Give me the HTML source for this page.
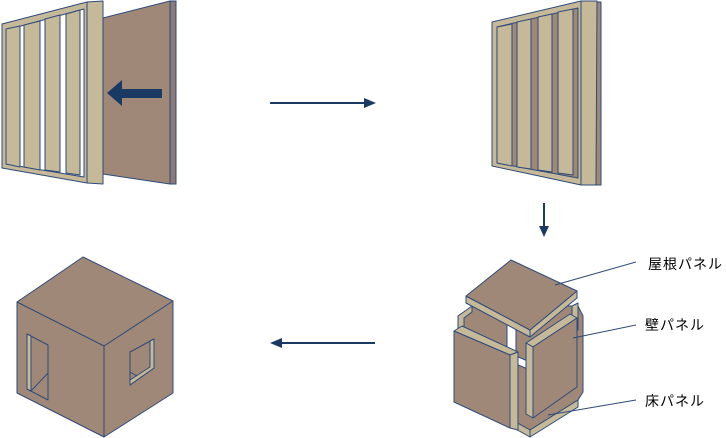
<!DOCTYPE html>
<html><head><meta charset="utf-8"><style>
html,body{margin:0;padding:0;background:#fff;width:726px;height:438px;overflow:hidden}
svg{display:block}
text{font-family:"Liberation Sans","Noto Sans CJK JP",sans-serif;font-size:14px;fill:#000}
</style></head><body>
<svg width="726" height="438" viewBox="0 0 726 438" xmlns="http://www.w3.org/2000/svg">
<g stroke="#2e4a78" stroke-width="1" stroke-linejoin="round">
<polygon points="103,18 170,1 176,1 176,184 170,184 103,174" fill="#a08878"/>
<polygon points="170,1 176,1 176,184 170,184" fill="#8a7a78"/>
<polygon points="2,24 87,2 87,183 2,168" fill="#c6b99a"/>
<polygon points="6,30 84,9 84,177 6,164" fill="#fff"/>
<polygon points="6,29 20,26 20,167 6,164" fill="#c6b99a"/>
<polygon points="24,25 40,21 40,170 24,167" fill="#c6b99a"/>
<polygon points="45,19 60,15 60,172 45,170" fill="#c6b99a"/>
<polygon points="66,14 80,10 80,175 66,173" fill="#c6b99a"/>
<polygon points="87,2 103,1 103,184 87,183" fill="#c6b99a"/>
</g>
<polygon points="107,93 122,80 122,89 162,89 162,98 122,98 122,106" fill="#1a3a63"/>
<line x1="270" y1="103" x2="368" y2="103" stroke="#1a3a63" stroke-width="2"/>
<polygon points="376,103 364,98 364,108" fill="#1a3a63"/>
<g stroke="#2e4a78" stroke-width="1" stroke-linejoin="round">
<polygon points="593,2 601,2 601,185 593,185" fill="#a08878"/>
<polygon points="492,22 581,1 581,185 492,166" fill="#c6b99a"/>
<polygon points="497,27 578,8 578,178 497,163" fill="#a08878"/>
<polygon points="497,27 512,24 512,166 497,163" fill="#c6b99a"/>
<polygon points="517,22 531,19 531,169 517,167" fill="#c6b99a"/>
<polygon points="538,17 552,14 552,172 538,170" fill="#c6b99a"/>
<polygon points="558,12 573,9 573,175 558,173" fill="#c6b99a"/>
<polygon points="581,1 597,1 596,185 581,185" fill="#c6b99a"/>
</g>
<line x1="544" y1="203" x2="544" y2="228" stroke="#1a3a63" stroke-width="2"/>
<polygon points="544,237 539,226 549,226" fill="#1a3a63"/>
<line x1="375" y1="343" x2="278" y2="343" stroke="#1a3a63" stroke-width="2"/>
<polygon points="270,343 282,338 282,348" fill="#1a3a63"/>
<g stroke="#2e4a78" stroke-width="1" stroke-linejoin="round">
<polygon points="83,257 173,301 173,393 104,437 17,393 17,302" fill="#a08878"/>
<polyline points="17,302 104,346 173,301" fill="none"/>
<line x1="104" y1="346" x2="104" y2="437"/>
<polygon points="27,334 48,345 48,400 27,389" fill="#a08878"/>
<polygon points="27,334 31,336 31,391 27,389" fill="#c6b99a"/>
<line x1="31" y1="391" x2="48" y2="373"/>
<polygon points="130,352 154,339 154,368 130,385" fill="#a08878"/>
<polygon points="150,341 154,339 154,368 130,385 130,380 150,367" fill="#c6b99a"/>
<line x1="130" y1="372" x2="137" y2="376"/>
</g>
<g stroke="#2e4a78" stroke-width="1" stroke-linejoin="round">
<polygon points="458,316 474,306 578,306 583,316 583,392 578,400 530,430 512,420 458,395" fill="#a08878"/>
<polygon points="507,322 516,326 516,356 530,362 530,370 516,364 507,360" fill="#fff"/>
<polygon points="458,316 472,306 472,312 464,318 464,332 458,330" fill="#c6b99a"/>
<polygon points="572,306 578,303 578,330 572,332" fill="#c6b99a"/>
<polygon points="512,420 530,430 530,437 512,427" fill="#c6b99a"/>
<polygon points="530,430 578,400 578,407 530,437" fill="#c6b99a"/>
<polygon points="454,331 462,326 518,352 510,355" fill="#c6b99a"/>
<polygon points="454,331 510,355 510,428 454,402" fill="#a08878"/>
<polygon points="510,355 518,352 518,430 510,428" fill="#c6b99a"/>
<polygon points="526,343 570,314 577,318 533,347" fill="#c6b99a"/>
<polygon points="533,347 577,318 577,387 533,418" fill="#a08878"/>
<polygon points="526,343 533,347 533,418 526,414" fill="#c6b99a"/>
<polygon points="466,296 530,330 530,337 466,303" fill="#c6b99a"/>
<polygon points="530,330 577,291 577,298 530,337" fill="#c6b99a"/>
<polygon points="511,260 577,291 530,330 466,296" fill="#a08878"/>
</g>
<g stroke="#2e4a78" stroke-width="1">
<line x1="555" y1="285" x2="636" y2="262"/>
<line x1="573" y1="338" x2="636" y2="325"/>
<line x1="548" y1="415" x2="636" y2="400"/>
</g>
<text x="648" y="269" letter-spacing="1">屋根パネル</text>
<text x="645" y="330" letter-spacing="1">壁パネル</text>
<text x="645" y="406" letter-spacing="1">床パネル</text>
</svg>
</body></html>
